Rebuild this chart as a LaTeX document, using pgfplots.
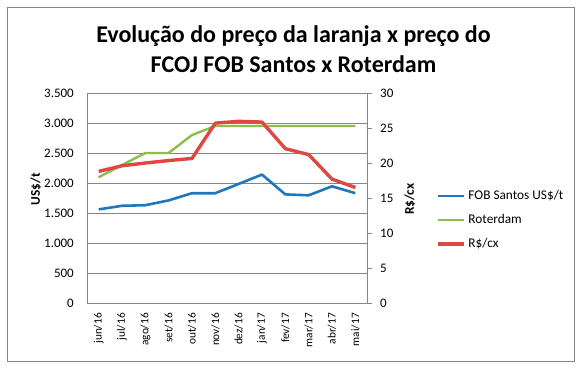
\documentclass[border=0pt]{standalone}
\usepackage{pgfplots}
\pgfplotsset{compat=1.18}
\usepackage{fontspec}
\setmainfont{Carlito}
\definecolor{cblue}{RGB}{31,120,190}
\definecolor{cgreen}{RGB}{140,190,75}
\definecolor{cred}{RGB}{222,72,66}
\definecolor{cgrid}{RGB}{134,134,134}
\begin{document}
\begin{tikzpicture}
\useasboundingbox (0pt,0pt) rectangle (583pt,370pt);
\draw[cgrid, line width=1pt] (7pt,9pt) rectangle (574pt,362pt);
\node[font=\fontsize{24}{29}\selectfont\bfseries, anchor=base, inner sep=0pt] at (293.5pt,327pt) {Evolução do preço da laranja x preço do};
\node[font=\fontsize{24}{29}\selectfont\bfseries, anchor=base, inner sep=0pt] at (293.5pt,297pt) {FCOJ FOB Santos x Roterdam};
\node[font=\fontsize{13.3}{15}\selectfont\bfseries, rotate=90, inner sep=0pt] at (36pt,181pt) {US\$/t};
\node[font=\fontsize{13.3}{15}\selectfont\bfseries, rotate=90, inner sep=0pt] at (410pt,171pt) {R\$/cx};
\begin{axis}[
  at={(87pt,67pt)}, anchor=south west,
  scale only axis, width=280pt, height=210pt,
  xmin=-0.5, xmax=11.5, ymin=0, ymax=3500,
  xtick={0,...,11},
  xticklabels={jun/16,jul/16,ago/16,set/16,out/16,nov/16,dez/16,jan/17,fev/17,mar/17,abr/17,mai/17},
  ytick={0,500,...,3500},
  /pgf/number format/assume math mode=true,
  /pgf/number format/1000 sep={.},
  xtick style={draw=none}, ytick style={draw=none},
  ymajorgrids, grid style={cgrid, line width=0.75pt},
  axis line style={cgrid, line width=0.75pt},
  xticklabel style={rotate=90, anchor=east, inner sep=0pt, font=\fontsize{11.3}{13}\selectfont},
  xticklabel shift=10pt,
  yticklabel style={anchor=east, inner sep=0pt, font=\fontsize{13}{15}\selectfont},
  yticklabel shift=13pt,
  legend style={at={(1.246,0.395)}, anchor=west, draw=none, fill=none, inner sep=0pt,
    row sep=12pt, font=\fontsize{13.3}{15}\selectfont,
    nodes={inner sep=0pt, text height=9pt, text depth=3pt, anchor=west},
    /tikz/every odd column/.style={column sep=3pt}},
  legend cell align=left,
  legend image code/.code={\draw[#1] (0pt,0pt) -- (26pt,0pt);},
]
\addplot[cblue, line width=2.6pt, line join=round] coordinates {
(0,1560) (1,1620) (2,1630) (3,1710) (4,1830) (5,1830) (6,1985) (7,2140) (8,1810) (9,1795) (10,1945) (11,1830)};
\addlegendentry{FOB Santos US\$/t}
\addplot[cgreen, line width=2.4pt, line join=round] coordinates {
(0,2095) (1,2300) (2,2500) (3,2500) (4,2800) (5,2950) (6,2950) (7,2950) (8,2950) (9,2950) (10,2950) (11,2950)};
\addlegendentry{Roterdam}
\addlegendimage{cred, line width=3.4pt}
\addlegendentry{R\$/cx}
\end{axis}
\begin{axis}[
  at={(87pt,67pt)}, anchor=south west,
  scale only axis, width=280pt, height=210pt,
  xmin=-0.5, xmax=11.5, ymin=0, ymax=30,
  ytick={0,5,...,30},
  axis y line*=right, axis x line=none,
  y axis line style={cgrid, line width=0.75pt},
  ytick style={cgrid, line width=0.75pt},
  tick align=outside, major tick length=5pt,
  /pgf/number format/assume math mode=true,
  yticklabel style={anchor=west, inner sep=0pt, font=\fontsize{13}{15}\selectfont},
  yticklabel shift=8pt,
]
\addplot[cred, line width=3.4pt, line join=round] coordinates {
(0,18.8) (1,19.6) (2,20.0) (3,20.35) (4,20.65) (5,25.7) (6,25.95) (7,25.85) (8,22.05) (9,21.2) (10,17.7) (11,16.5)};
\end{axis}
\end{tikzpicture}
\end{document}
